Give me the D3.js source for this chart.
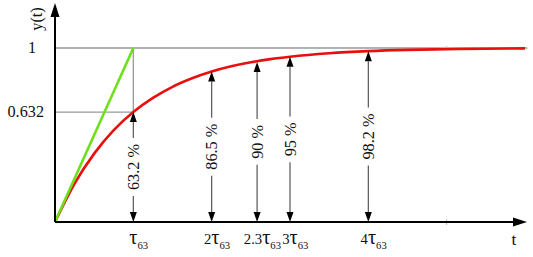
<!DOCTYPE html>
<html>
<head>
<meta charset="utf-8">
<script src="https://cdn.jsdelivr.net/npm/d3@7"></script>
<style>
  html, body { margin: 0; padding: 0; background: #fff; }
  svg { display: block; }
</style>
</head>
<body>
<svg id="chart" width="533" height="257"></svg>
<script>
// Step response y(t) sampled (t in units of tau63)
const curveT = [0, 0.25, 0.5, 0.75, 1, 1.25, 1.5, 1.75, 2, 2.25, 2.5, 2.75, 3, 3.5, 4, 4.5, 5, 5.5, 6];
const curveY = [0, 0.221, 0.393, 0.528, 0.632, 0.713, 0.777, 0.826, 0.865, 0.895, 0.918, 0.936, 0.950, 0.970, 0.982, 0.989, 0.993, 0.996, 0.998];
// Tangent at origin
const tangentT = [0, 1];
const tangentY = [0, 1];
// Marked time constants (position on the axis as drawn) and their values
const markT = [1, 2, 2.58, 3, 4];
const markY = [0.632, 0.865, 0.92, 0.95, 0.982];
const markPercent = ["63.2 %", "86.5 %", "90 %", "95 %", "98.2 %"];
const markCoef = ["", "2", "2.3", "3", "4"];
// Y tick labels
const yTicks = [1, 0.632];
const yTickLabels = ["1", "0.632"];

// ---- pick an installed serif font (fallback: Liberation Sans) ----
function hasFont(name) {
  const c = document.createElement("canvas").getContext("2d");
  const s = "abcdefghijklmnopqrstuvwxyz0123456789%.()";
  c.font = `72px monospace`; const m0 = c.measureText(s).width;
  c.font = `72px "${name}", monospace`; const m1 = c.measureText(s).width;
  return Math.abs(m0 - m1) > 0.5;
}
const candidates = ["Liberation Serif", "DejaVu Serif", "Noto Serif", "Tinos", "Times New Roman", "FreeSerif", "Liberation Sans"];
const fam = candidates.find(hasFont) || "Liberation Sans";
const FONT = `"${fam}", sans-serif`;
// scale so that "86.5 %" is about 46 px long, as in the reference
const k = (() => {
  const c = document.createElement("canvas").getContext("2d");
  c.font = `16px ${FONT}`;
  return Math.min(1.05, 46 / c.measureText("86.5 %").width);
})();
const fs = v => v * k;

const svg = d3.select("#chart");
const x = d3.scaleLinear().domain([0, 6]).range([55, 525]);
const y = d3.scaleLinear().domain([0, 1]).range([222, 48]);

// gray guide lines
const gray = "#9a9a9a";
svg.append("line").attr("x1", x(0)).attr("x2", x(6.03)).attr("y1", y(1)).attr("y2", y(1))
  .attr("stroke", gray).attr("stroke-width", 1.3);
svg.append("line").attr("x1", x(0)).attr("x2", x(1)).attr("y1", y(0.632)).attr("y2", y(0.632))
  .attr("stroke", gray).attr("stroke-width", 1.3);
svg.append("line").attr("x1", x(1)).attr("x2", x(1)).attr("y1", y(1)).attr("y2", y(0.632))
  .attr("stroke", gray).attr("stroke-width", 1.3);
// faint tick at 5 tau
svg.append("line").attr("x1", x(5)).attr("x2", x(5)).attr("y1", y(1) - 2).attr("y2", y(1) + 2)
  .attr("stroke", "#bbb").attr("stroke-width", 1);
svg.append("line").attr("x1", x(5)).attr("x2", x(5)).attr("y1", y(0) - 3).attr("y2", y(0) + 3)
  .attr("stroke", "#bbb").attr("stroke-width", 1);

// Y tick labels
svg.selectAll(".ytl").data(yTicks).enter().append("text")
  .attr("x", d => d === 1 ? 36 : 44).attr("y", d => y(d) + 5)
  .attr("text-anchor", "end").attr("font-family", FONT).attr("font-size", fs(16)).attr("fill", "#111")
  .text((d, i) => yTickLabels[i]);

// Red response curve
const line = d3.line().x(d => x(d[0])).y(d => y(d[1])).curve(d3.curveMonotoneX);
svg.append("path").datum(curveT.map((t, i) => [t, curveY[i]]))
  .attr("d", line).attr("fill", "none").attr("stroke", "#e8100f").attr("stroke-width", 2.6);
// Green tangent
svg.append("path").datum(tangentT.map((t, i) => [t, tangentY[i]]))
  .attr("d", d3.line().x(d => x(d[0])).y(d => y(d[1])))
  .attr("fill", "none").attr("stroke", "#6ee01a").attr("stroke-width", 2.6);

// Double arrows with rotated percentage labels
const arrowLen = 10, arrowHalf = 3.5;
markT.forEach((t, i) => {
  const cx = x(t), yTop = y(markY[i]), yBot = y(0);
  const mid = (yTop + yBot) / 2;
  const g = svg.append("g");
  const label = g.append("text")
    .attr("transform", `translate(${cx + 5.5},${mid}) rotate(-90)`)
    .attr("text-anchor", "middle").attr("font-family", FONT).attr("font-size", fs(16)).attr("fill", "#111")
    .text(markPercent[i]);
  const half = label.node().getComputedTextLength() / 2;
  const gap = 6;
  g.append("line").attr("x1", cx).attr("x2", cx).attr("y1", yTop + arrowLen).attr("y2", mid - half - gap)
    .attr("stroke", "#555").attr("stroke-width", 1.2);
  g.append("line").attr("x1", cx).attr("x2", cx).attr("y1", mid + half + gap).attr("y2", yBot - arrowLen)
    .attr("stroke", "#555").attr("stroke-width", 1.2);
  g.append("path").attr("d", `M${cx},${yTop}L${cx - arrowHalf},${yTop + arrowLen}L${cx + arrowHalf},${yTop + arrowLen}Z`)
    .attr("fill", "#000");
  g.append("path").attr("d", `M${cx},${yBot}L${cx - arrowHalf},${yBot - arrowLen}L${cx + arrowHalf},${yBot - arrowLen}Z`)
    .attr("fill", "#000");

  // x tick label  n tau_63 ; the "n tau" part is centred on the arrow
  const tl = svg.append("text").attr("y", 244).attr("font-family", FONT).attr("fill", "#111");
  const a = tl.append("tspan").attr("font-size", fs(14.5)).text(markCoef[i]);
  const b = tl.append("tspan").attr("font-size", fs(20)).text("τ");
  tl.append("tspan").attr("font-size", fs(10.5)).attr("dy", 5).text("63");
  const mainW = (markCoef[i] ? a.node().getComputedTextLength() : 0) + b.node().getComputedTextLength();
  tl.attr("x", cx - mainW / 2);
});

// Axes
svg.append("line").attr("x1", x(0)).attr("x2", 516).attr("y1", y(0)).attr("y2", y(0))
  .attr("stroke", "#000").attr("stroke-width", 2);
svg.append("path").attr("d", `M527,${y(0)}L513,${y(0) - 4.5}L513,${y(0) + 4.5}Z`).attr("fill", "#000");
svg.append("line").attr("x1", x(0)).attr("x2", x(0)).attr("y1", y(0)).attr("y2", 12)
  .attr("stroke", "#000").attr("stroke-width", 2);
svg.append("path").attr("d", `M${x(0)},3L${x(0) - 4.5},17L${x(0) + 4.5},17Z`).attr("fill", "#000");

// Axis titles
svg.append("text").attr("x", 514).attr("y", 245).attr("text-anchor", "middle")
  .attr("font-family", FONT).attr("font-size", fs(17)).attr("fill", "#111").text("t");
svg.append("text").attr("transform", "translate(42,19) rotate(-90)")
  .attr("text-anchor", "middle").attr("font-family", FONT).attr("font-size", fs(16)).attr("fill", "#111").text("y(t)");
</script>
</body>
</html>
